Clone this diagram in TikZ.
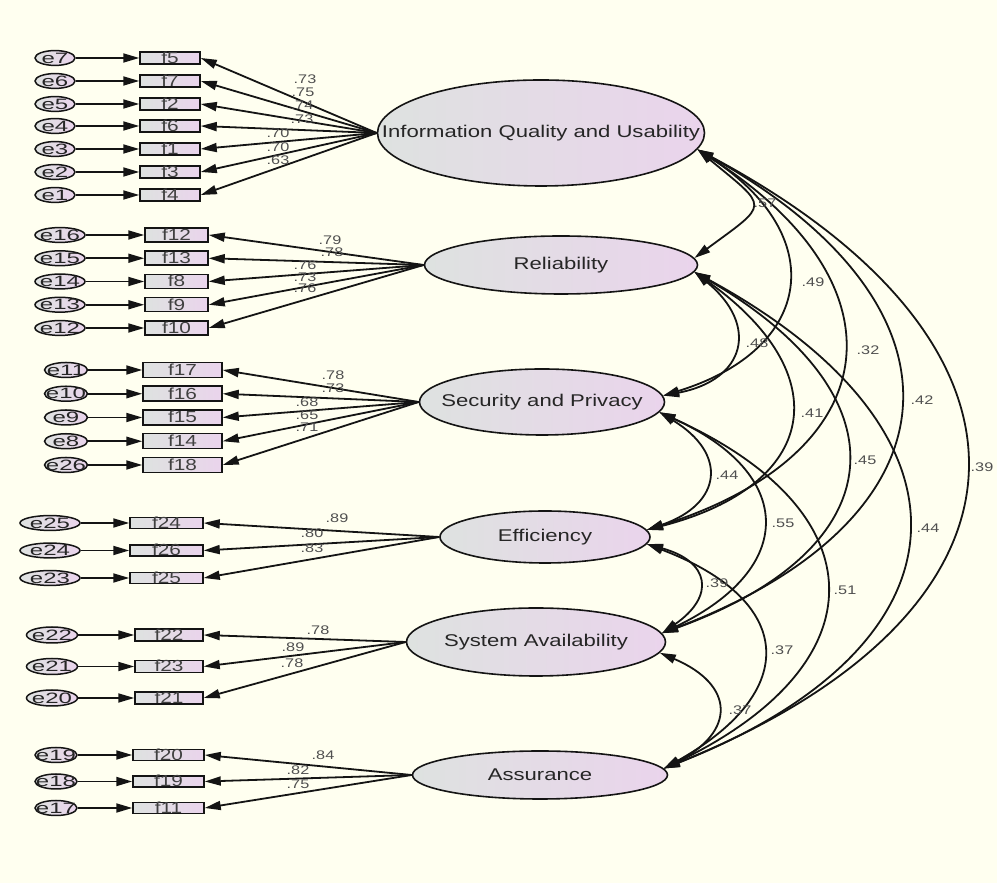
\documentclass[tikz,border=0pt]{standalone}
\usepackage{fontspec}
\setmainfont{Liberation Sans}[FakeStretch=1.3]
\newfontfamily\errfont{Liberation Sans}[FakeStretch=1.6]
\usepackage{tikz}
\usetikzlibrary{arrows.meta,shapes.geometric}

\definecolor{paper}{RGB}{255,255,240}
\definecolor{shadeL}{RGB}{222,226,224}
\definecolor{shadeR}{RGB}{234,212,236}
\definecolor{ink}{RGB}{20,20,20}
\definecolor{numgray}{RGB}{80,80,80}

\newcommand{\nowidth}[1]{\makebox[0pt]{#1}}

\tikzset{
	latent/.style={ellipse, draw=ink, line width=1.6pt, left color=shadeL, right color=shadeR,
		inner sep=0pt, font=\fontsize{17}{17}\selectfont, text=black!85},
	item/.style={rectangle, draw=ink, line width=1.5pt, left color=shadeL, right color=shadeR,
		inner sep=0pt, text height=11pt, text depth=0pt, font=\fontsize{16}{16}\selectfont, text=black!75},
	err/.style={ellipse, draw=ink, line width=1.5pt, left color=shadeL, right color=shadeR,
		inner sep=0pt, text height=10.5pt, text depth=0pt, font=\errfont\fontsize{15}{15}\selectfont, text=black!85},
	arr/.style={draw=ink, line width=1.8pt, -{Triangle[length=16pt,width=9pt]}},
	cov/.style={draw=ink, line width=1.8pt, {Triangle[length=16pt,width=9pt]}-{Triangle[length=16pt,width=9pt]},
		bend left=65, looseness=1.73},
	num/.style={inner sep=0pt, font=\fontsize{12.5}{12.5}\selectfont, text=numgray}
}

\begin{document}
\begin{tikzpicture}[x=1pt, y=1pt]

	\fill[paper] (0,0) rectangle (997,883);
	\useasboundingbox (0,0) rectangle (997,883);

	% latent factors
	\node[latent, minimum width=327pt, minimum height=106pt] (iqu) at (541,750) {\nowidth{Information Quality and Usability}};
	\node[latent, minimum width=273pt, minimum height=58pt] (rel) at (561,618) {\nowidth{Reliability}};
	\node[latent, minimum width=245pt, minimum height=66pt] (sec) at (542,481) {\nowidth{Security and Privacy}};
	\node[latent, minimum width=210pt, minimum height=52pt] (eff) at (545,346) {\nowidth{Efficiency}};
	\node[latent, minimum width=259pt, minimum height=68pt] (sa) at (536,241) {\nowidth{System Availability}};
	\node[latent, minimum width=255pt, minimum height=48pt] (ass) at (540,108) {\nowidth{Assurance}};

	% Information Quality and Usability
	\begin{scope}[item/.append style={minimum width=60pt, minimum height=12pt},
		err/.append style={minimum width=40pt, minimum height=14pt}]
	\node[item] (f5) at (170,825) {f5};
	\node[item] (f7) at (170,802) {f7};
	\node[item] (f2) at (170,779) {f2};
	\node[item] (f6) at (170,757) {f6};
	\node[item] (f1) at (170,734) {f1};
	\node[item] (f3) at (170,711) {f3};
	\node[item] (f4) at (170,688) {f4};
	\node[err] (e7) at (55,825) {\nowidth{e7}};
	\node[err] (e6) at (55,802) {\nowidth{e6}};
	\node[err] (e5) at (55,779) {\nowidth{e5}};
	\node[err] (e4) at (55,757) {\nowidth{e4}};
	\node[err] (e3) at (55,734) {\nowidth{e3}};
	\node[err] (e2) at (55,711) {\nowidth{e2}};
	\node[err] (e1) at (55,688) {\nowidth{e1}};
	\end{scope}

	% Reliability
	\begin{scope}[item/.append style={minimum width=63pt, minimum height=14pt},
		err/.append style={minimum width=50pt, minimum height=14pt}]
	\node[item] (f12) at (176.5,648) {f12};
	\node[item] (f13) at (176.5,624.75) {f13};
	\node[item] (f8) at (176.5,601.5) {f8};
	\node[item] (f9) at (176.5,578.25) {f9};
	\node[item] (f10) at (176.5,555) {f10};
	\node[err] (e16) at (60,648) {\nowidth{e16}};
	\node[err] (e15) at (60,624.75) {\nowidth{e15}};
	\node[err] (e14) at (60,601.5) {\nowidth{e14}};
	\node[err] (e13) at (60,578.25) {\nowidth{e13}};
	\node[err] (e12) at (60,555) {\nowidth{e12}};
	\end{scope}

	% Security and Privacy
	\begin{scope}[item/.append style={minimum width=79pt, minimum height=15pt},
		err/.append style={minimum width=43pt, minimum height=15pt}]
	\node[item] (f17) at (182.5,513) {f17};
	\node[item] (f16) at (182.5,489.25) {f16};
	\node[item] (f15) at (182.5,465.5) {f15};
	\node[item] (f14) at (182.5,441.75) {f14};
	\node[item] (f18) at (182.5,418) {f18};
	\node[err] (e11) at (66,513) {\nowidth{e11}};
	\node[err] (e10) at (66,489.25) {\nowidth{e10}};
	\node[err] (e9) at (66,465.5) {\nowidth{e9}};
	\node[err] (e8) at (66,441.75) {\nowidth{e8}};
	\node[err] (e26) at (66,418) {\nowidth{e26}};
	\end{scope}

	% Efficiency
	\begin{scope}[item/.append style={minimum width=73pt, minimum height=10pt},
		err/.append style={minimum width=60pt, minimum height=13pt}]
	\node[item] (f24) at (166.5,360) {f24};
	\node[item] (f26) at (166.5,332.5) {f26};
	\node[item] (f25) at (166.5,305) {f25};
	\node[err] (e25) at (50,360) {\nowidth{e25}};
	\node[err] (e24) at (50,332.5) {\nowidth{e24}};
	\node[err] (e23) at (50,305) {\nowidth{e23}};
	\end{scope}

	% System Availability
	\begin{scope}[item/.append style={minimum width=68pt, minimum height=12pt},
		err/.append style={minimum width=51pt, minimum height=16pt}]
	\node[item] (f22) at (169,248) {f22};
	\node[item] (f23) at (169,216.5) {f23};
	\node[item] (f21) at (169,185) {f21};
	\node[err] (e22) at (52,248) {\nowidth{e22}};
	\node[err] (e21) at (52,216.5) {\nowidth{e21}};
	\node[err] (e20) at (52,185) {\nowidth{e20}};
	\end{scope}

	% Assurance
	\begin{scope}[item/.append style={minimum width=71pt, minimum height=9pt},
		err/.append style={minimum width=42pt, minimum height=15pt}]
	\node[item] (f20) at (168.5,128) {f20};
	\node[item] (f19) at (168.5,101.5) {f19};
	\node[item] (f11) at (168.5,75) {f11};
	\node[err] (e19) at (56,128) {\nowidth{e19}};
	\node[err] (e18) at (56,101.5) {\nowidth{e18}};
	\node[err] (e17) at (56,75) {\nowidth{e17}};
	\end{scope}

	% error terms
	\draw[arr] (e7) -- (f5);
	\draw[arr] (e6) -- (f7);
	\draw[arr] (e5) -- (f2);
	\draw[arr] (e4) -- (f6);
	\draw[arr] (e3) -- (f1);
	\draw[arr] (e2) -- (f3);
	\draw[arr] (e1) -- (f4);
	\draw[arr] (e16) -- (f12);
	\draw[arr] (e15) -- (f13);
	\draw[arr] (e14) -- (f8);
	\draw[arr] (e13) -- (f9);
	\draw[arr] (e12) -- (f10);
	\draw[arr] (e11) -- (f17);
	\draw[arr] (e10) -- (f16);
	\draw[arr] (e9) -- (f15);
	\draw[arr] (e8) -- (f14);
	\draw[arr] (e26) -- (f18);
	\draw[arr] (e25) -- (f24);
	\draw[arr] (e24) -- (f26);
	\draw[arr] (e23) -- (f25);
	\draw[arr] (e22) -- (f22);
	\draw[arr] (e21) -- (f23);
	\draw[arr] (e20) -- (f21);
	\draw[arr] (e19) -- (f20);
	\draw[arr] (e18) -- (f19);
	\draw[arr] (e17) -- (f11);

	% loadings
	\draw[arr] (iqu.west) -- (f5.east);
	\draw[arr] (iqu.west) -- (f7.east);
	\draw[arr] (iqu.west) -- (f2.east);
	\draw[arr] (iqu.west) -- (f6.east);
	\draw[arr] (iqu.west) -- (f1.east);
	\draw[arr] (iqu.west) -- (f3.east);
	\draw[arr] (iqu.west) -- (f4.east);
	\draw[arr] (rel.west) -- (f12.east);
	\draw[arr] (rel.west) -- (f13.east);
	\draw[arr] (rel.west) -- (f8.east);
	\draw[arr] (rel.west) -- (f9.east);
	\draw[arr] (rel.west) -- (f10.east);
	\draw[arr] (sec.west) -- (f17.east);
	\draw[arr] (sec.west) -- (f16.east);
	\draw[arr] (sec.west) -- (f15.east);
	\draw[arr] (sec.west) -- (f14.east);
	\draw[arr] (sec.west) -- (f18.east);
	\draw[arr] (eff.west) -- (f24.east);
	\draw[arr] (eff.west) -- (f26.east);
	\draw[arr] (eff.west) -- (f25.east);
	\draw[arr] (sa.west) -- (f22.east);
	\draw[arr] (sa.west) -- (f23.east);
	\draw[arr] (sa.west) -- (f21.east);
	\draw[arr] (ass.west) -- (f20.east);
	\draw[arr] (ass.west) -- (f19.east);
	\draw[arr] (ass.west) -- (f11.east);

	\node[num] (lf5) at (305,804) {.73};
	\node[num] (lf7) at (303,791) {.75};
	\node[num] (lf2) at (302,778) {.74};
	\node[num] (lf6) at (302,764) {.73};
	\node[num] (lf1) at (278,750) {.70};
	\node[num] (lf3) at (278,736) {.70};
	\node[num] (lf4) at (278,723) {.63};
	\node[num] (lf12) at (330,643) {.79};
	\node[num] (lf13) at (332,631) {.78};
	\node[num] (lf8) at (305,618) {.76};
	\node[num] (lf9) at (305,606) {.73};
	\node[num] (lf10) at (305,595) {.76};
	\node[num] (lf17) at (333,508) {.78};
	\node[num] (lf16) at (333,495) {.73};
	\node[num] (lf15) at (307,481) {.68};
	\node[num] (lf14) at (307,468) {.65};
	\node[num] (lf18) at (307,456) {.71};
	\node[num] (lf24) at (337,365) {.89};
	\node[num] (lf26) at (312,350) {.80};
	\node[num] (lf25) at (312,335) {.83};
	\node[num] (lf22) at (318,253) {.78};
	\node[num] (lf23) at (293,236) {.89};
	\node[num] (lf21) at (292,220) {.78};
	\node[num] (lf20) at (323,128) {.84};
	\node[num] (lf19) at (298,113) {.82};
	\node[num] (lf11) at (298,99) {.75};

	% correlations
	\draw[cov, bend left=52, looseness=2.2] (iqu.-6) to (rel.3);
	\draw[cov, looseness=1.63] (iqu.-6) to (sec.3);
	\draw[cov, looseness=1.68] (iqu.-6) to (eff.4);
	\draw[cov, looseness=1.71] (iqu.-6) to (sa.4);
	\draw[cov] (iqu.-6) to (ass.3);
	\draw[cov, looseness=1.69] (rel.-3) to (sec.3);
	\draw[cov] (rel.-3) to (eff.4);
	\draw[cov, looseness=1.75] (rel.-3) to (sa.4);
	\draw[cov] (rel.-3) to (ass.3);
	\draw[cov] (sec.-5) to (eff.4);
	\draw[cov] (sec.-5) to (sa.4);
	\draw[cov] (sec.-5) to (ass.3);
	\draw[cov, looseness=1.85] (eff.-4) to (sa.4);
	\draw[cov, looseness=1.8] (eff.-4) to (ass.3);
	\draw[cov, looseness=1.8] (sa.-5) to (ass.3);

	\node[num] (c12) at (765,680) {.57};
	\node[num] (c13) at (813,601) {.49};
	\node[num] (c14) at (868,533) {.32};
	\node[num] (c15) at (922,483) {.42};
	\node[num] (c16) at (982,416) {.39};
	\node[num] (c23) at (757,540) {.48};
	\node[num] (c24) at (812,470) {.41};
	\node[num] (c25) at (865,423) {.45};
	\node[num] (c26) at (928,355) {.44};
	\node[num] (c34) at (727,408) {.44};
	\node[num] (c35) at (783,360) {.55};
	\node[num] (c36) at (845,293) {.51};
	\node[num] (c45) at (717,300) {.39};
	\node[num] (c46) at (782,233) {.37};
	\node[num] (c56) at (740,173) {.37};

\end{tikzpicture}
\end{document}
